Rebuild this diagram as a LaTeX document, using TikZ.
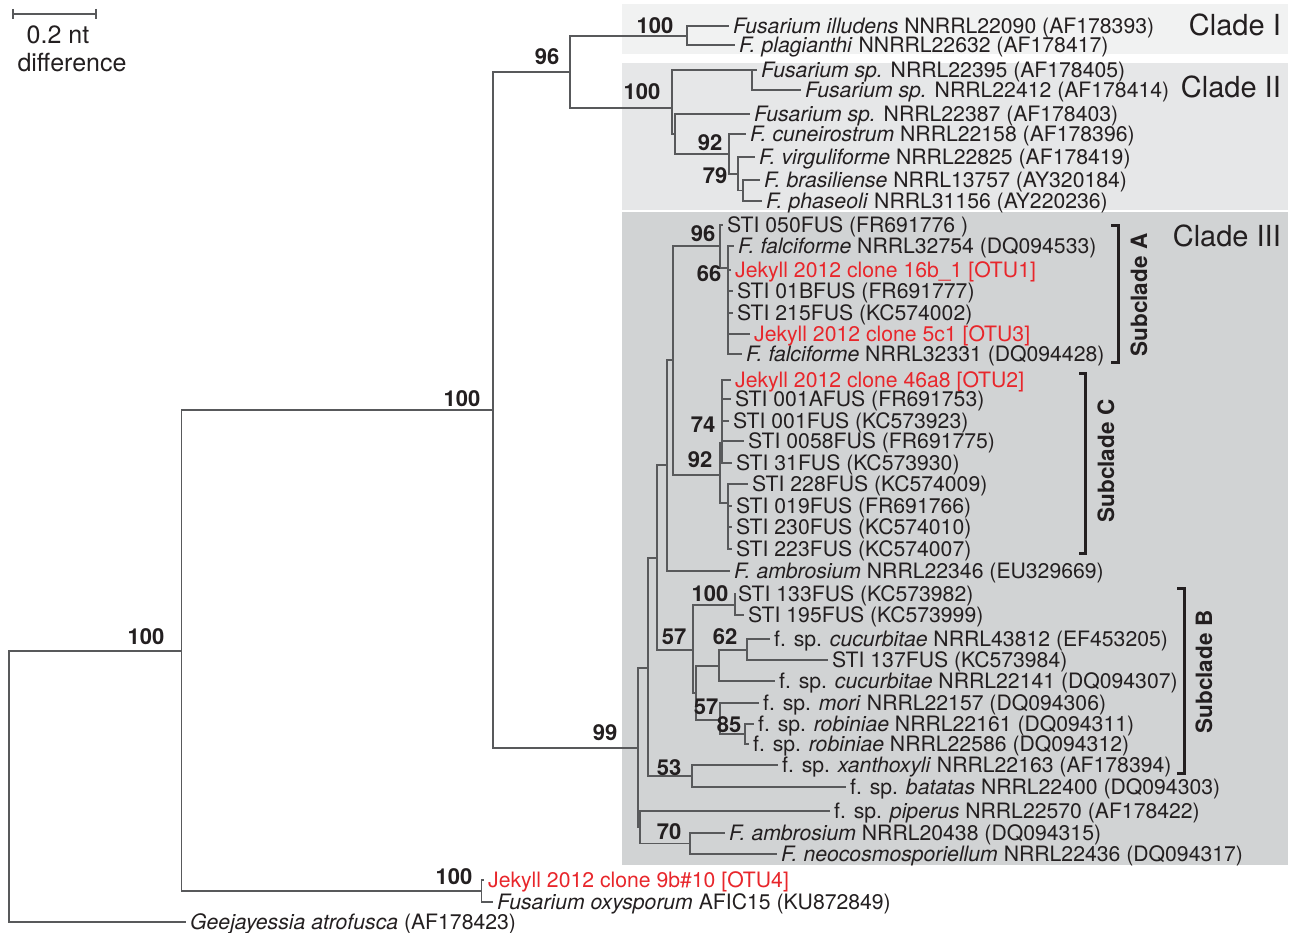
\documentclass[tikz,border=0pt]{standalone}
\usepackage{fontspec}
\setmainfont{TeX Gyre Heros}
\definecolor{ink}{HTML}{231F20}
\definecolor{otured}{HTML}{E8262B}
\definecolor{twig}{HTML}{58595B}
\definecolor{cladeone}{HTML}{F1F2F2}
\definecolor{cladetwo}{HTML}{E6E7E8}
\definecolor{cladethree}{HTML}{D1D3D4}
\newcommand{\leaffont}{\fontsize{21.2}{24}\selectfont}
\newcommand{\supfont}{\fontsize{22}{25}\selectfont\bfseries}
\newcommand{\cladefont}{\fontsize{29}{32}\selectfont}
\newcommand{\subcladefont}{\fontsize{22.5}{26}\selectfont\bfseries}
\newcommand{\barfont}{\fontsize{25}{28}\selectfont}

\begin{document}
\begin{tikzpicture}[x=1pt,y=1pt,yscale=-1,
	branch/.style={draw=twig,line width=1.2pt},
	leaf/.style={anchor=west,inner xsep=4pt,inner ysep=0pt,text height=15pt,text depth=0pt,font=\leaffont,text=ink},
	otu/.style={leaf,text=otured},
	support/.style={inner sep=0pt,font=\supfont,text=ink},
	clade/.style={anchor=east,inner sep=0pt,font=\cladefont,text=ink},
	subclade/.style={rotate=90,inner sep=0pt,font=\subcladefont,text=ink},
	bracket/.style={draw=ink,line width=3pt}]
	\useasboundingbox (0,0) rectangle (1293,933);
	
	%Shading of the clades
	\fill[cladeone] (622,4) rectangle (1288,54);
	\fill[cladetwo] (622,63) rectangle (1288,210);
	\fill[cladethree] (622,212) rectangle (1288,865);
	
	%Scale bar
	\draw[branch] (13,14) -- (96,14) (13,9) -- (13,19) (96,9) -- (96,19);
	\node[font=\barfont,text=ink] (barnt) at (58,35) {0.2 nt};
	\node[font=\barfont,text=ink] (bardiff) at (72,63) {difference};
	
	%Internal nodes
	\coordinate (root) at (9,786);
	\coordinate (n100a) at (181.5,651);
	\coordinate (n100b) at (493,410);
	\coordinate (nJ) at (481.5,891);
	\coordinate (n96) at (570,72);
	\coordinate (nI) at (687,36);
	\coordinate (nII) at (672,108);
	\coordinate (na) at (752,70);
	\coordinate (nb) at (675,134);
	\coordinate (n92c) at (729,154);
	\coordinate (n79) at (738,174);
	\coordinate (nbp) at (743,190.5);
	\coordinate (n99) at (638,748);
	\coordinate (nQ) at (648,668);
	\coordinate (nP640) at (640,827);
	\coordinate (n70) at (690,843.5);
	\coordinate (n53) at (692,776);
	\coordinate (nP658) at (657,558);
	\coordinate (nP667) at (667,465);
	\coordinate (nP673) at (673,360);
	\coordinate (n96A) at (720,246);
	\coordinate (n66) at (728,268);
	\coordinate (n92) at (720,475);
	\coordinate (n74) at (722,443);
	\coordinate (nL) at (728,503);
	\coordinate (n57a) at (693,650);
	\coordinate (n100c) at (735,605);
	\coordinate (nR) at (696,693);
	\coordinate (nS) at (719,666);
	\coordinate (n62) at (747,650);
	\coordinate (n57b) at (720,720);
	\coordinate (n85) at (745,734);
	
	% Tips: Clade I and II
	\node[leaf] (illudens) at (729,26) {\textit{Fusarium illudens} NNRRL22090 (AF178393)};
	\node[leaf] (plagianthi) at (735,45) {\textit{F. plagianthi} NNRRL22632 (AF178417)};
	\node[leaf] (f22395) at (757,70) {\textit{Fusarium sp.} NRRL22395 (AF178405)};
	\node[leaf] (f22412) at (801,90) {\textit{Fusarium sp.} NRRL22412 (AF178414)};
	\node[leaf] (f22387) at (750,114) {\textit{Fusarium sp.} NRRL22387 (AF178403)};
	\node[leaf] (cuneiro) at (746,134) {\textit{F. cuneirostrum} NRRL22158 (AF178396)};
	\node[leaf] (virgul) at (755,157) {\textit{F. virguliforme} NRRL22825 (AF178419)};
	\node[leaf] (brasil) at (760,180) {\textit{F. brasiliense} NRRL13757 (AY320184)};
	\node[leaf] (phaseoli) at (762,201) {\textit{F. phaseoli} NRRL31156 (AY220236)};
	% Tips: Clade III
	\node[leaf] (sti050) at (723,225) {STI 050FUS (FR691776 )};
	\node[leaf] (falc32754) at (734,246) {\textit{F. falciforme} NRRL32754 (DQ094533)};
	\node[otu] (otu1) at (731,270) {Jekyll 2012 clone 16b\_1 [OTU1]};
	\node[leaf] (sti01b) at (733,291) {STI 01BFUS (FR691777)};
	\node[leaf] (sti215) at (733,313) {STI 215FUS (KC574002)};
	\node[otu] (otu3) at (750,334) {Jekyll 2012 clone 5c1 [OTU3]};
	\node[leaf] (falc32331) at (742,354) {\textit{F. falciforme} NRRL32331 (DQ094428)};
	\node[otu] (otu2) at (731,380) {Jekyll 2012 clone 46a8 [OTU2]};
	\node[leaf] (sti001a) at (731,399) {STI 001AFUS (FR691753)};
	\node[leaf] (sti001) at (729,421) {STI 001FUS (KC573923)};
	\node[leaf] (sti0058) at (744,441) {STI 0058FUS (FR691775)};
	\node[leaf] (sti31) at (732,463) {STI 31FUS (KC573930)};
	\node[leaf] (sti228) at (748,484) {STI 228FUS (KC574009)};
	\node[leaf] (sti019) at (732,506) {STI 019FUS (FR691766)};
	\node[leaf] (sti230) at (732,527) {STI 230FUS (KC574010)};
	\node[leaf] (sti223) at (732,549) {STI 223FUS (KC574007)};
	\node[leaf] (ambro22346) at (730,571) {\textit{F. ambrosium} NRRL22346 (EU329669)};
	\node[leaf] (sti133) at (734,594) {STI 133FUS (KC573982)};
	\node[leaf] (sti195) at (744,615) {STI 195FUS (KC573999)};
	\node[leaf] (cuc43812) at (770,639) {f. sp. \textit{cucurbitae} NRRL43812 (EF453205)};
	\node[leaf] (sti137) at (828,660) {STI 137FUS (KC573984)};
	\node[leaf] (cuc22141) at (775,681) {f. sp. \textit{cucurbitae} NRRL22141 (DQ094307)};
	\node[leaf] (mori) at (759,703) {f. sp. \textit{mori} NRRL22157 (DQ094306)};
	\node[leaf] (rob22161) at (754,724) {f. sp. \textit{robiniae} NRRL22161 (DQ094311)};
	\node[leaf] (rob22586) at (749,744) {f. sp. \textit{robiniae} NRRL22586 (DQ094312)};
	\node[leaf] (xantho) at (778,765) {f. sp. \textit{xanthoxyli} NRRL22163 (AF178394)};
	\node[leaf] (batatas) at (846,787) {f. sp. \textit{batatas} NRRL22400 (DQ094303)};
	\node[leaf] (piperus) at (830,811) {f. sp. \textit{piperus} NRRL22570 (AF178422)};
	\node[leaf] (ambro20438) at (725,833) {\textit{F. ambrosium} NRRL20438 (DQ094315)};
	\node[leaf] (neocosmo) at (777,854) {\textit{F. neocosmosporiellum} NRRL22436 (DQ094317)};
	% Tips: outgroups
	\node[otu] (otu4) at (484,880) {Jekyll 2012 clone 9b\#10 [OTU4]};
	\node[leaf] (oxysp) at (493,902) {\textit{Fusarium oxysporum} AFIC15 (KU872849)};
	\node[leaf] (geejay) at (186,922) {\textit{Geejayessia atrofusca} (AF178423)};
	
	%Branches
	\draw[branch] (root) |- (n100a) (root) |- (geejay.west);
	\draw[branch] (n100a) |- (n100b) (n100a) |- (nJ);
	\draw[branch] (nJ) |- (otu4.west) (nJ) |- (oxysp.west);
	\draw[branch] (n100b) |- (n96) (n100b) |- (n99);
	\draw[branch] (n96) |- (nI) (n96) |- (nII);
	\draw[branch] (nI) |- (illudens.west) (nI) |- (plagianthi.west);
	\draw[branch] (nII) |- (na) (nII) |- (nb);
	\draw[branch] (na) |- (f22395.west) (na) |- (f22412.west);
	\draw[branch] (nb) |- (f22387.west) (nb) |- (n92c);
	\draw[branch] (n92c) |- (cuneiro.west) (n92c) |- (n79);
	\draw[branch] (n79) |- (virgul.west) (n79) |- (nbp);
	\draw[branch] (nbp) |- (brasil.west) (nbp) |- (phaseoli.west);
	\draw[branch] (n99) |- (nQ) (n99) |- (nP640);
	\draw[branch] (nP640) |- (piperus.west) (nP640) |- (n70);
	\draw[branch] (n70) |- (ambro20438.west) (n70) |- (neocosmo.west);
	\draw[branch] (nQ) |- (nP658) (nQ) |- (n53);
	\draw[branch] (n53) |- (xantho.west) (n53) |- (batatas.west);
	\draw[branch] (nP658) |- (nP667) (nP658) |- (n57a);
	\draw[branch] (nP667) |- (nP673) (nP667) |- (ambro22346.west);
	\draw[branch] (nP673) |- (n96A) (nP673) |- (n92);
	\draw[branch] (n96A) |- (sti050.west) (n96A) |- (n66);
	\draw[branch] (n66) |- (falc32754.west) (n66) |- (otu1.west) (n66) |- (sti01b.west)
		(n66) |- (sti215.west) (n66) |- (otu3.west) (n66) |- (falc32331.west);
	\draw[branch] (n92) |- (n74) (n92) |- (nL);
	\draw[branch] (n74) |- (otu2.west) (n74) |- (sti001a.west) (n74) |- (sti001.west)
		(n74) |- (sti0058.west) (n74) |- (sti31.west);
	\draw[branch] (nL) |- (sti228.west) (nL) |- (sti019.west) (nL) |- (sti230.west) (nL) |- (sti223.west);
	\draw[branch] (n57a) |- (n100c) (n57a) |- (nR);
	\draw[branch] (n100c) |- (sti133.west) (n100c) |- (sti195.west);
	\draw[branch] (nR) |- (nS) (nR) |- (n57b);
	\draw[branch] (nS) |- (n62) (nS) |- (cuc22141.west);
	\draw[branch] (n62) |- (cuc43812.west) (n62) |- (sti137.west);
	\draw[branch] (n57b) |- (mori.west) (n57b) |- (n85);
	\draw[branch] (n85) |- (rob22161.west) (n85) |- (rob22586.west);
	
	% Support values
	\node[support] (bsI) at (655,26) {100};
	\node[support] (bs96) at (547,57) {96};
	\node[support] (bsII) at (642,92) {100};
	\node[support] (bs92c) at (710,143) {92};
	\node[support] (bs79) at (715,176) {79};
	\node[support] (bs100b) at (462,399) {100};
	\node[support] (bs100a) at (146,637) {100};
	\node[support] (bs96A) at (703,234) {96};
	\node[support] (bs66) at (709,274) {66};
	\node[support] (bs74) at (703,425) {74};
	\node[support] (bs92) at (700,460) {92};
	\node[support] (bs100c) at (710,594) {100};
	\node[support] (bs57a) at (674,637) {57};
	\node[support] (bs62) at (725,637) {62};
	\node[support] (bs57b) at (706,707) {57};
	\node[support] (bs85) at (729,725) {85};
	\node[support] (bs99) at (605,733) {99};
	\node[support] (bs53) at (669,768) {53};
	\node[support] (bs70) at (669,832) {70};
	\node[support] (bsJ) at (454,877) {100};
	
	% Clade names
	\node[clade] (cladeI) at (1281,25) {Clade I};
	\node[clade] (cladeII) at (1281,87) {Clade II};
	\node[clade] (cladeIII) at (1281,236) {Clade III};
	
	% Subclade brackets
	\draw[bracket] (1111,226) -| (1118,362) -- (1111,362);
	\node[subclade] (subA) at (1139,295) {Subclade A};
	\draw[bracket] (1079,373) -| (1085,553) -- (1079,553);
	\node[subclade] (subC) at (1106,461) {Subclade C};
	\draw[bracket] (1177,588) -| (1184,773) -- (1177,773);
	\node[subclade] (subB) at (1204,672) {Subclade B};
\end{tikzpicture}
\end{document}
